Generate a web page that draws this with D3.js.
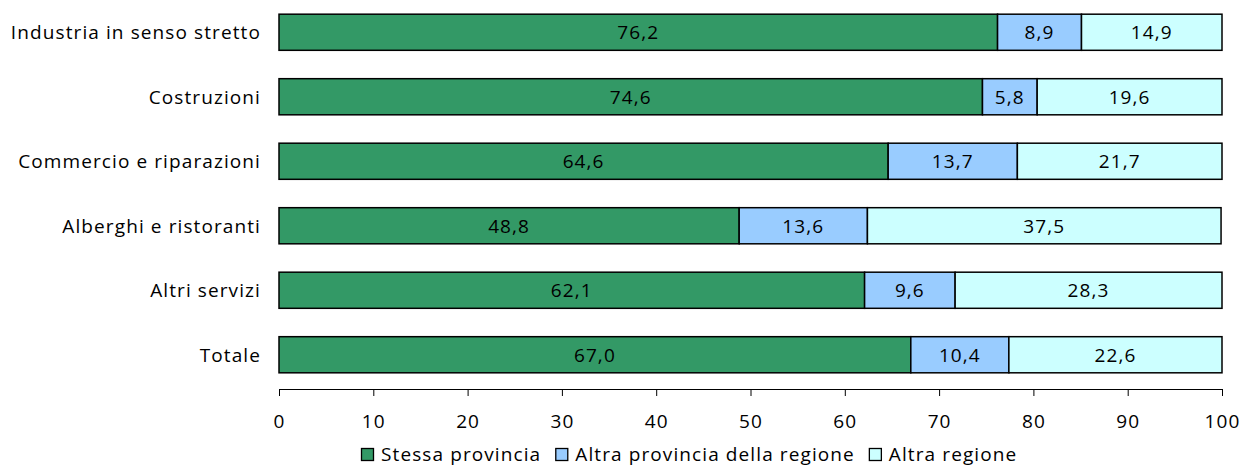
<!DOCTYPE html>
<html><head><meta charset="utf-8">
<script src="https://cdn.jsdelivr.net/npm/d3@7"></script>
<style>body{margin:0;background:#fff}svg{display:block}text{font-family:"Open Sans",sans-serif;fill:#000;letter-spacing:1.1px}</style>
</head><body><svg id="c" width="1240" height="466"></svg>
<script>
const categories = ["Industria in senso stretto","Costruzioni","Commercio e riparazioni","Alberghi e ristoranti","Altri servizi","Totale"];
const stessaProvincia = [76.2,74.6,64.6,48.8,62.1,67.0];
const altraProvincia = [8.9,5.8,13.7,13.6,9.6,10.4];
const altraRegione = [14.9,19.6,21.7,37.5,28.3,22.6];
const seriesNames = ["Stessa provincia","Altra provincia della regione","Altra regione"];
const colors = ["#339966","#99CCFF","#CCFFFF"];
const ticks = [0,10,20,30,40,50,60,70,80,90,100];

const FS = 19;
const svg = d3.select("#c");
const x = d3.scaleLinear().domain([0,100]).range([279,1222]);
const y = d3.scaleBand().domain(categories).range([0,387]).paddingInner(0.44).paddingOuter(0.22);
const fmt = v => v.toFixed(1).replace(".", ",");

const rows = categories.map((c,i)=>({c, vals:[stessaProvincia[i],altraProvincia[i],altraRegione[i]]}));
rows.forEach(r=>{
  let acc=0;
  r.vals.forEach((v,k)=>{
    const x0=x(acc), x1=x(acc+v);
    svg.append("rect").attr("x",x0).attr("y",y(r.c)).attr("width",x1-x0).attr("height",y.bandwidth())
      .attr("fill",colors[k]).attr("stroke","#000").attr("stroke-width",1.5);
    svg.append("text").attr("x",(x0+x1)/2).attr("y",y(r.c)+y.bandwidth()/2).attr("dy","0.36em")
      .attr("text-anchor","middle").attr("font-size",FS).text(fmt(v));
    acc+=v;
  });
  svg.append("text").attr("x",261).attr("y",y(r.c)+y.bandwidth()/2).attr("dy","0.36em")
    .attr("text-anchor","end").attr("font-size",FS).text(r.c);
});

const ax = svg.append("g").attr("transform","translate(0,389)")
  .call(d3.axisBottom(x).tickValues(ticks).tickSize(7).tickPadding(19).tickFormat(d=>d));
ax.select(".domain").attr("stroke","#000").attr("stroke-width",1);
ax.selectAll(".tick line").attr("stroke","#000");
ax.selectAll("text").attr("font-size",FS).attr("font-family","'Open Sans',sans-serif");

// legend
let lx = 361;
seriesNames.forEach((n,k)=>{
  const g = svg.append("g").attr("transform",`translate(${lx},0)`);
  g.append("rect").attr("x",0.5).attr("y",448.5).attr("width",12).attr("height",12).attr("fill",colors[k]).attr("stroke","#000").attr("stroke-width",1.3);
  const t = g.append("text").attr("x",20).attr("y",460.5).attr("font-size",FS).text(n);
  lx += 20 + t.node().getComputedTextLength() + 14;
});
</script></body></html>
